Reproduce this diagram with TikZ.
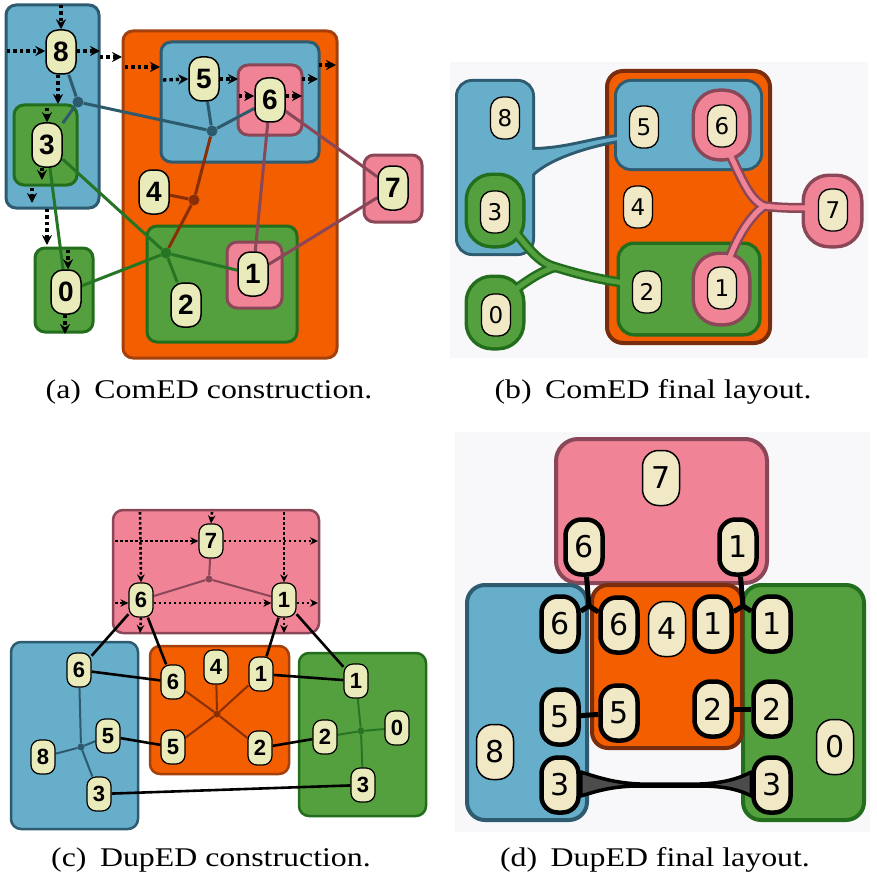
\documentclass[tikz,border=0pt]{standalone}
\usepackage{fontspec}
\setmainfont{Liberation Serif}
\newfontfamily\capfont[FakeStretch=1.18]{Liberation Serif}
\newfontfamily\lsans{Liberation Sans}
\newfontfamily\dvs{DejaVu Sans}
\usetikzlibrary{arrows.meta}
\pgfdeclarelayer{boxes}
\pgfdeclarelayer{edges}
\pgfsetlayers{boxes,edges,main}
\definecolor{cream}{HTML}{E9EBBA}
\definecolor{creamB}{HTML}{F1E9C6}
\definecolor{blueF}{HTML}{67AECA}
\definecolor{blueD}{HTML}{2E5B6F}
\definecolor{orF}{HTML}{F25E00}
\definecolor{orD}{HTML}{A3400C}
\definecolor{orDD}{HTML}{7A2D0C}
\definecolor{grF}{HTML}{55A03E}
\definecolor{grD}{HTML}{226E1C}
\definecolor{pkF}{HTML}{F08396}
\definecolor{pkD}{HTML}{8A4757}
\definecolor{edB}{HTML}{2E5A6D}
\definecolor{edO}{HTML}{8A2E08}
\definecolor{edG}{HTML}{267524}
\definecolor{edP}{HTML}{8A4757}
\definecolor{paper}{HTML}{F8F8FB}
\tikzset{
 na/.style={draw=black,line width=1.5pt,fill=cream,rounded corners=12pt,minimum width=30pt,minimum height=44pt,inner sep=0pt,font=\lsans\bfseries\fontsize{28}{28}\selectfont},
 nb/.style={draw=black,line width=1.3pt,fill=creamB,rounded corners=12pt,minimum width=29pt,minimum height=42pt,inner sep=0pt,font=\dvs\fontsize{23}{23}\selectfont},
 nc/.style={draw=black,line width=1.2pt,fill=cream,rounded corners=9pt,minimum width=24pt,minimum height=34pt,inner sep=0pt,font=\lsans\bfseries\fontsize{22}{22}\selectfont},
 nd/.style={draw=black,line width=1.5pt,fill=creamB,rounded corners=16pt,minimum width=37pt,minimum height=55pt,inner sep=0pt,font=\dvs\fontsize{30}{30}\selectfont},
 ndd/.style={nd,line width=4.5pt},
 jn/.style={circle,inner sep=0pt,minimum size=11pt,fill=#1},
 jc/.style={circle,inner sep=0pt,minimum size=7pt,fill=#1},
 boxa/.style={line width=3pt,rounded corners=10pt},
 boxc/.style={line width=2.5pt,rounded corners=10pt},
 boxd/.style={line width=4pt,rounded corners=18pt},
 darr/.style={line width=3.4pt,dash pattern=on 3.4pt off 3pt,-{Stealth[length=10pt,width=10pt]}},
 darrc/.style={line width=2.6pt,dash pattern=on 2.6pt off 2.4pt,-{Stealth[length=8pt,width=7.5pt]}},
 ea/.style={line width=3pt,#1},
 ec/.style={line width=2pt,#1},
 ek/.style={line width=2.6pt,black},
 ed/.style={line width=5pt,black},
 captext/.style={font=\capfont\fontsize{27}{27}\selectfont,anchor=base},
}
\begin{document}
\begin{tikzpicture}[x=1pt,y=-1pt]
\useasboundingbox (0,0) rectangle (876,888);
% ================= nodes (a)
\node[na] (a8) at (61,52) {8};
\node[na] (a3) at (47,145) {3};
\node[na] (a0) at (66,292) {0};
\node[na] (a5) at (204,79) {5};
\node[na] (a6) at (270,100) {6};
\node[na] (a4) at (154,192) {4};
\node[na] (a1) at (253,274) {1};
\node[na] (a2) at (186,305) {2};
\node[na] (a7) at (393,188) {7};
\node[jn=edB] (j1) at (78,102) {};
\node[jn=edB] (j2) at (212,131) {};
\node[jn=edO] (j3) at (194,200) {};
\node[jn=edG] (jg) at (166,253) {};
% ================= nodes (b)
\node[nb] (b8) at (505,118) {8};
\node[nb] (b5) at (644,127) {5};
\node[nb] (b6) at (722,126) {6};
\node[nb] (b4) at (638,207) {4};
\node[nb] (b3) at (495,212) {3};
\node[nb] (b7) at (833,210) {7};
\node[nb] (b2) at (647,292) {2};
\node[nb] (b1) at (722,288) {1};
\node[nb] (b0) at (496,315) {0};
% ================= nodes (c)
\node[nc] (c7) at (211,541) {7};
\node[nc] (cp6) at (141,600) {6};
\node[nc] (cp1) at (284,600) {1};
\node[jc=edP] (jp) at (209,579) {};
\node[nc] (cb6) at (79,670) {6};
\node[nc] (cb5) at (108,736) {5};
\node[nc] (cb8) at (43,757) {8};
\node[nc] (cb3) at (99,794) {3};
\node[jc=edB] (jb) at (81,747) {};
\node[nc] (co6) at (173,682) {6};
\node[nc] (co4) at (216,667) {4};
\node[nc] (co1) at (261,674) {1};
\node[nc] (co5) at (173,747) {5};
\node[nc] (co2) at (260,748) {2};
\node[jc=edO] (jo) at (217,714) {};
\node[nc] (cg1) at (356,681) {1};
\node[nc] (cg2) at (325,737) {2};
\node[nc] (cg0) at (397,728) {0};
\node[nc] (cg3) at (363,785) {3};
\node[jc=edG] (jgc) at (361,731) {};
% ================= nodes (d)
\node[nd] (d7) at (661,478) {7};
\node[ndd] (dp6) at (584,547) {6};
\node[ndd] (dp1) at (738,547) {1};
\node[ndd] (db6) at (560,624) {6};
\node[ndd] (do6) at (619,625) {6};
\node[nd] (d4) at (667,629) {4};
\node[ndd] (do1) at (713,624) {1};
\node[ndd] (dg1) at (772,624) {1};
\node[ndd] (db5) at (560,717) {5};
\node[ndd] (do5) at (619,713) {5};
\node[ndd] (do2) at (713,709) {2};
\node[ndd] (dg2) at (772,709) {2};
\node[nd] (d8) at (495,752) {8};
\node[ndd] (db3) at (560,785) {3};
\node[ndd] (dg3) at (772,785) {3};
\node[nd] (d0) at (835,747) {0};
% ================= captions
\node[captext] (capa) at (209,398) {(a)\enspace ComED construction.};
\node[captext] (capb) at (653,398) {(b)\enspace ComED final layout.};
\node[captext] (capc) at (211,866) {(c)\enspace DupED construction.};
\node[captext] (capd) at (655,866) {(d)\enspace DupED final layout.};
% ================= dotted arrows (a)
\draw[darr] (61,5) -- (a8.north);
\draw[darr] (7,51) -- ([yshift=1pt]a8.west);
\draw[darr] ([yshift=1pt]a8.east) -- (100,51);
\draw[darr] (100,57) -- (122,57);
\draw[darr] (125,67) -- (160,67);
\draw[darr] (163,80) -- (a5.west);
\draw[darr] (a5.east) -- (238,79);
\draw[darr] (239,96) -- ([yshift=4pt]a6.west);
\draw[darr] ([yshift=4pt]a6.east) -- (302,96);
\draw[darr] (302,79) -- (318,79);
\draw[darr] (319,65) -- (336,65);
\draw[darr] ([xshift=-3pt]a8.south) -- (58,104);
\draw[darr] (47,108) -- (a3.north);
\draw[darr] ([xshift=-5pt]a3.south) -- (42,180);
\draw[darr] (32,188) -- (32,203);
\draw[darr] (47,209) -- (47,245);
\draw[darr] (68,250) -- ([xshift=2pt]a0.north);
\draw[darr] ([xshift=-1pt]a0.south) -- (65,334);
% ================= dotted arrows (c)
\draw[darrc] (115,541) -- (c7.west);
\draw[darrc] (c7.east) -- (318,541);
\draw[darrc] (115,603) -- ([yshift=-3pt]cp6.west);
\draw[darrc] ([yshift=-3pt]cp6.east) -- ([yshift=-3pt]cp1.west);
\draw[darrc] ([yshift=-3pt]cp1.east) -- (318,603);
\draw[darrc] (140,512) -- (cp6.north);
\draw[darrc] (cp6.south) -- (140,633);
\draw[darrc] (212,512) -- (c7.north);
\draw[darrc] (284,512) -- (cp1.north);
\draw[darrc] (cp1.south) -- (284,633);
% ================= edges
\begin{pgfonlayer}{edges}
 % (a)
 \draw[ea=edB] (j1) -- (a8);
 \draw[ea=edB] (j1) -- (a3);
 \draw[ea=edB] (j1) -- (j2);
 \draw[ea=edB] (j2) -- (a5);
 \draw[ea=edB] (j2) -- (a6);
 \draw[ea=edO] (j2) -- (j3);
 \draw[ea=edO] (j3) -- (a4);
 \draw[ea=edO] (j3) -- (jg);
 \draw[ea=edG] (jg) -- (a3);
 \draw[ea=edG] (jg) -- (a0);
 \draw[ea=edG] (jg) -- (a2);
 \draw[ea=edG] (jg) -- (a1);
 \draw[ea=edG] (a3) -- (a0);
 \draw[ea=edP] (a6) -- (a1);
 \draw[ea=edP] (a6) -- (a7);
 \draw[ea=edP] (a7) -- (a1);
 % (c)
 \draw[ec=edP] (jp) -- (c7);
 \draw[ec=edP] (jp) -- (cp6);
 \draw[ec=edP] (jp) -- (cp1);
 \draw[ec=edB] (jb) -- (cb6);
 \draw[ec=edB] (jb) -- (cb5);
 \draw[ec=edB] (jb) -- (cb8);
 \draw[ec=edB] (jb) -- (cb3);
 \draw[ec=edO] (jo) -- (co6);
 \draw[ec=edO] (jo) -- (co4);
 \draw[ec=edO] (jo) -- (co1);
 \draw[ec=edO] (jo) -- (co5);
 \draw[ec=edO] (jo) -- (co2);
 \draw[ec=edG] (jgc) -- (cg1);
 \draw[ec=edG] (jgc) -- (cg2);
 \draw[ec=edG] (jgc) -- (cg0);
 \draw[ec=edG] (jgc) -- (cg3);
 \draw[ek] (cp6) -- (cb6);
 \draw[ek] (cp6) -- (co6);
 \draw[ek] (cp1) -- (co1);
 \draw[ek] (cp1) -- (cg1);
 \draw[ek] (cb6) -- (co6);
 \draw[ek] (co1) -- (cg1);
 \draw[ek] (cb5) -- (co5);
 \draw[ek] (co2) -- (cg2);
 \draw[ek] (cb3) -- (cg3);
 % (d)
 \coordinate (q6) at (589,606);
 \coordinate (q1) at (743,606);
 \draw[ed] (dp6) -- (q6);
 \draw[ed] (q6) -- (db6);
 \draw[ed] (q6) -- (do6);
 \draw[ed] (dp1) -- (q1);
 \draw[ed] (q1) -- (do1);
 \draw[ed] (q1) -- (dg1);
 \draw[ed] (db5) -- (do5);
 \draw[ed] (do2) -- (dg2);
 \draw[line width=3.5pt,black,fill=black!70,line join=round]
   ([yshift=13pt]db3.east) .. controls (600,778) and (615,783) .. (640,784) -- (700,784)
   .. controls (725,783) and (740,778) .. ([yshift=13pt]dg3.west)
   -- ([yshift=-11pt]dg3.west) .. controls (740,790) and (725,786) .. (700,786) -- (640,786)
   .. controls (615,786) and (600,790) .. ([yshift=-11pt]db3.east) -- cycle;
\end{pgfonlayer}
% ================= boxes
\begin{pgfonlayer}{boxes}
 \fill[white] (0,0) rectangle (876,888);
 % (a)
 \draw[boxa,blueD,fill=blueF] (6,5) rectangle (99,208);
 \draw[boxa,grD,fill=grF] (14,105) rectangle (77,185);
 \draw[boxa,grD,fill=grF] (35,248) rectangle (93,332);
 \draw[boxa,orD,fill=orF] (123,31) rectangle (337,358);
 \draw[boxa,blueD,fill=blueF] (161,42) rectangle (319,162);
 \draw[boxa,pkD,fill=pkF] (238,65) rectangle (302,135);
 \draw[boxa,grD,fill=grF] (147,226) rectangle (297,342);
 \draw[boxa,pkD,fill=pkF] (227,242) rectangle (282,308);
 \draw[boxa,pkD,fill=pkF] (364,155) rectangle (422,222);
 % (b)
 \fill[paper] (450,62) rectangle (868,358);
 \draw[orDD,line width=4pt,fill=orF,rounded corners=16pt] (607,71) rectangle (770,343);
 \begin{scope}[blueD,line width=6pt]
  \draw[rounded corners=14pt] (458,82) rectangle (532,253);
  \draw[rounded corners=14pt] (617,82) rectangle (760,168);
  \draw[line join=round] (520,150) -- (532,150) .. controls (565,150) and (590,140) .. (618,137) -- (618,140) .. controls (585,146) and (548,158) .. (532,174) -- (520,174) -- cycle;
 \end{scope}
 \begin{scope}[blueF]
  \fill[rounded corners=14pt] (458,82) rectangle (532,253);
  \fill[rounded corners=14pt] (617,82) rectangle (760,168);
  \fill (520,150) -- (532,150) .. controls (565,150) and (590,140) .. (618,137) -- (618,140) .. controls (585,146) and (548,158) .. (532,174) -- (520,174) -- cycle;
 \end{scope}
 \begin{scope}[grD,line width=7pt]
  \draw[rounded corners=24pt] (468,176) rectangle (522,245);
  \draw[rounded corners=24pt] (468,278) rectangle (522,347);
  \draw[rounded corners=14pt] (620,245) rectangle (758,333);
  \draw[line width=10pt,line cap=round] (512,228) .. controls (530,250) and (538,262) .. (555,267) .. controls (578,274) and (600,280) .. (632,284);
  \draw[line width=10pt,line cap=round] (555,267) .. controls (540,272) and (528,280) .. (512,292);
 \end{scope}
 \begin{scope}[grF]
  \fill[rounded corners=24pt] (468,176) rectangle (522,245);
  \fill[rounded corners=24pt] (468,278) rectangle (522,347);
  \fill[rounded corners=14pt] (620,245) rectangle (758,333);
  \draw[line width=5pt,line cap=round] (512,228) .. controls (530,250) and (538,262) .. (555,267) .. controls (578,274) and (600,280) .. (632,284);
  \draw[line width=5pt,line cap=round] (555,267) .. controls (540,272) and (528,280) .. (512,292);
 \end{scope}
 \begin{scope}[pkD,line width=7pt]
  \draw[rounded corners=24pt] (695,92) rectangle (748,158);
  \draw[rounded corners=24pt] (695,255) rectangle (748,323);
  \draw[rounded corners=24pt] (805,177) rectangle (860,245);
  \draw[line width=10pt,line cap=round] (728,150) .. controls (742,180) and (750,200) .. (764,206) .. controls (780,208) and (795,208) .. (812,208);
  \draw[line width=10pt,line cap=round] (764,206) .. controls (748,218) and (736,240) .. (728,262);
 \end{scope}
 \begin{scope}[pkF]
  \fill[rounded corners=24pt] (695,92) rectangle (748,158);
  \fill[rounded corners=24pt] (695,255) rectangle (748,323);
  \fill[rounded corners=24pt] (805,177) rectangle (860,245);
  \draw[line width=5pt,line cap=round] (728,150) .. controls (742,180) and (750,200) .. (764,206) .. controls (780,208) and (795,208) .. (812,208);
  \draw[line width=5pt,line cap=round] (764,206) .. controls (748,218) and (736,240) .. (728,262);
 \end{scope}
 % (c)
 \draw[boxc,pkD,fill=pkF] (113,510) rectangle (319,633);
 \draw[boxc,blueD,fill=blueF] (11,642) rectangle (138,829);
 \draw[boxc,orD,fill=orF] (150,646) rectangle (289,774);
 \draw[boxc,grD,fill=grF] (299,653) rectangle (426,816);
 % (d)
 \fill[paper] (455,432) rectangle (870,832);
 \draw[boxd,pkD,fill=pkF,rounded corners=22pt] (556,439) rectangle (767,583);
 \draw[boxd,blueD,fill=blueF] (467,585) rectangle (587,820);
 \draw[boxd,grD,fill=grF] (743,585) rectangle (864,820);
 \draw[boxd,orDD,fill=orF,rounded corners=16pt] (592,585) rectangle (742,748);
\end{pgfonlayer}
\end{tikzpicture}
\end{document}
